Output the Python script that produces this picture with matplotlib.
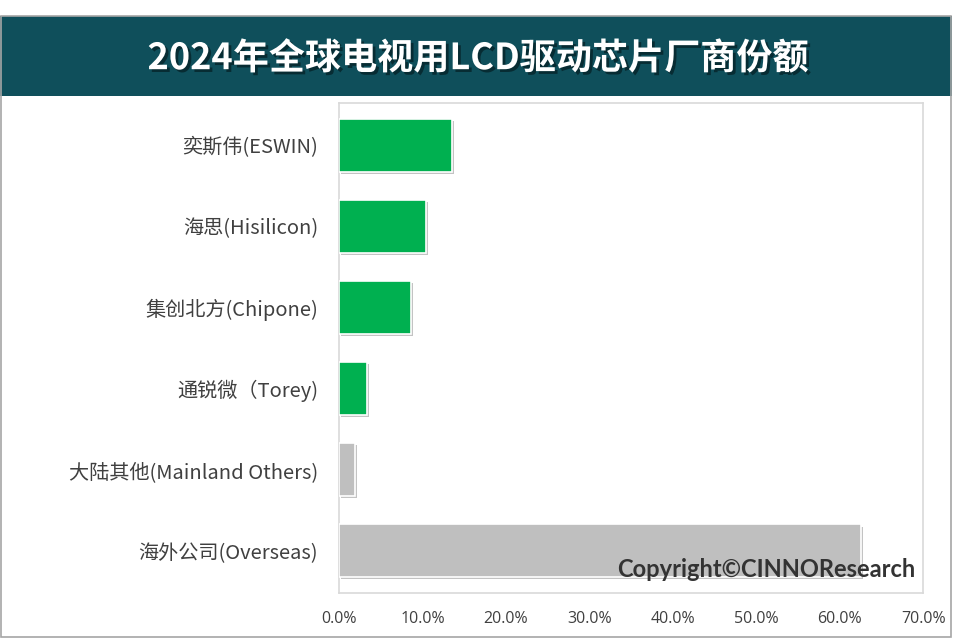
import matplotlib
matplotlib.use('Agg')
import matplotlib.pyplot as plt
import matplotlib.patheffects as pe
from matplotlib.patches import Rectangle
from matplotlib.ticker import PercentFormatter

plt.rcParams['font.family'] = ['Noto Sans CJK SC', 'DejaVu Sans']

# vendor share of global TV LCD driver ICs, 2024 (%)
companies = ['奕斯伟(ESWIN)', '海思(Hisilicon)', '集创北方(Chipone)',
             '通锐微（Torey)', '大陆其他(Mainland Others)', '海外公司(Overseas)']
shares = [13.5, 10.4, 8.6, 3.4, 1.9, 62.6]
colors = ['#00b050', '#00b050', '#00b050', '#00b050', '#bfbfbf', '#bfbfbf']
xticks = [0, 10, 20, 30, 40, 50, 60, 70]

fig = plt.figure(figsize=(9.56, 6.38), dpi=100)

# title band and outer frame
fig.patches.append(Rectangle((0, 0.8495), 0.996, 0.1254, transform=fig.transFigure,
                             facecolor='#0f4f5b', edgecolor='none', zorder=0))
fig.patches.append(Rectangle((0.001, 0.0015), 0.994, 0.973, transform=fig.transFigure,
                             facecolor='none', edgecolor='#a6a6a6', lw=1.2, zorder=1))
fig.text(0.5, 0.908, '2024年全球电视用LCD驱动芯片厂商份额', color='white',
         fontsize=26, fontweight='bold', ha='center', va='center',
         path_effects=[pe.SimplePatchShadow(offset=(2, -2), shadow_rgbFace='#06242a', alpha=0.8),
                       pe.Normal()])

ax = fig.add_axes([0.3546, 0.0705, 0.611, 0.768])
y = list(range(len(companies)))
bars = ax.barh(y, shares, height=0.65, color=colors, edgecolor='white', linewidth=1.2,
               zorder=3)
for b in bars:
    b.set_path_effects([pe.SimplePatchShadow(offset=(1.5, -1.5), shadow_rgbFace='#888888',
                                             alpha=0.5), pe.Normal()])

ax.set_ylim(5.52, -0.52)
ax.set_xlim(0, 70)
ax.set_xticks(xticks)
ax.xaxis.set_major_formatter(PercentFormatter(decimals=1))
ax.set_yticks(y)
ax.set_yticklabels(companies, fontsize=14.5, color='#404040')
ax.tick_params(axis='x', length=0, pad=13, labelsize=11.5, labelcolor='#404040')
ax.tick_params(axis='y', length=0, pad=15)
for lbl in ax.get_xticklabels():
    lbl.set_fontfamily(['Open Sans', 'DejaVu Sans'])
for s in ax.spines.values():
    s.set_color('#d9d9d9')
    s.set_linewidth(1.2)

fig.text(0.958, 0.096, 'Copyright©CINNOResearch', color='#333333', fontsize=17,
         fontweight='bold', ha='right', va='baseline', family=['Lato', 'DejaVu Sans'])

fig.savefig('out.png', dpi=100)
